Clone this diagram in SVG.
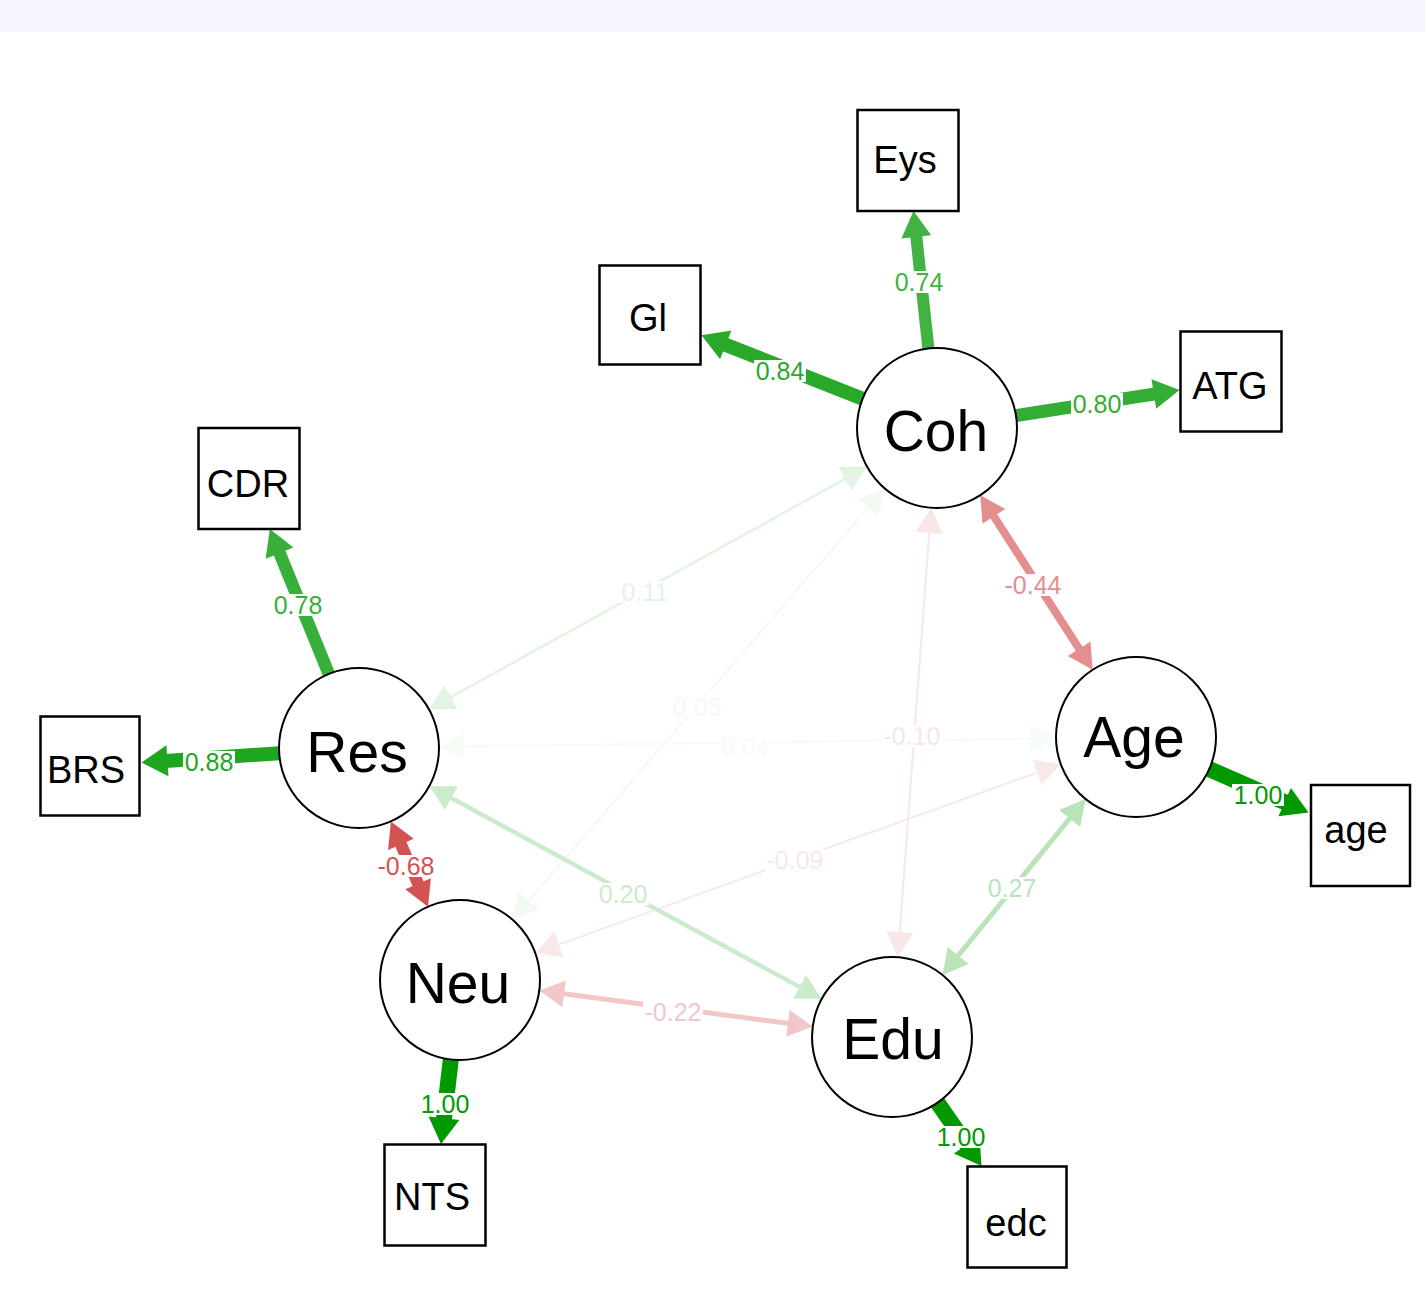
<svg xmlns="http://www.w3.org/2000/svg" width="1425" height="1302" viewBox="0 0 1425 1302">
  <style>
    .lat circle { fill: #ffffff; stroke: #000000; stroke-width: 2; }
    .lat text { font-family: "Liberation Sans", Arial, sans-serif; font-size: 57px; text-anchor: middle; fill: #000000; }
    .man rect { fill: #ffffff; stroke: #000000; stroke-width: 2.5; }
    .man text { font-family: "Liberation Sans", Arial, sans-serif; font-size: 38px; text-anchor: middle; fill: #000000; }
    .edge line { stroke-linecap: butt; }
    .lbl rect { fill: #ffffff; stroke: none; }
    .lbl text { font-family: "Liberation Sans", Arial, sans-serif; font-size: 25px; text-anchor: middle; }
  </style>

  <!-- header band -->
  <rect x="0" y="0" width="1425" height="32" fill="#F5F5FF"/>

  <!-- connectors: each drawn along local x from its start border point -->
  <g id="connectors">
    <!-- loadings (single-headed) -->
    <g class="edge" id="e-coh-eys" transform="translate(928.4,348.5) rotate(-96.18)" fill="#42B342" stroke="#42B342">
      <line x1="0" y1="0" x2="114" y2="0" stroke-width="12"/>
      <polygon points="138.3,0 112.3,-15 112.3,15" stroke="none"/>
    </g>
    <g class="edge" id="e-coh-gl" transform="translate(862.6,398.7) rotate(-158.51)" fill="#29A929" stroke="#29A929">
      <line x1="0" y1="0" x2="149" y2="0" stroke-width="14"/>
      <polygon points="173.1,0 147.1,-15.5 147.1,15.5" stroke="none"/>
    </g>
    <g class="edge" id="e-coh-atg" transform="translate(1016,415.6) rotate(-8.89)" fill="#33AD33" stroke="#33AD33">
      <line x1="0" y1="0" x2="141" y2="0" stroke-width="13"/>
      <polygon points="165.5,0 139.5,-15 139.5,15" stroke="none"/>
    </g>
    <g class="edge" id="e-res-cdr" transform="translate(328.8,673.9) rotate(-112.17)" fill="#38AF38" stroke="#38AF38">
      <line x1="0" y1="0" x2="132" y2="0" stroke-width="12.5"/>
      <polygon points="156.4,0 130.4,-15 130.4,15" stroke="none"/>
    </g>
    <g class="edge" id="e-res-brs" transform="translate(279.2,753.3) rotate(176.17)" fill="#1FA51F" stroke="#1FA51F">
      <line x1="0" y1="0" x2="114" y2="0" stroke-width="14"/>
      <polygon points="138,0 112,-15.5 112,15.5" stroke="none"/>
    </g>
    <g class="edge" id="e-age-age" transform="translate(1209.3,769.1) rotate(23.63)" fill="#009900" stroke="#009900">
      <line x1="0" y1="0" x2="84" y2="0" stroke-width="16"/>
      <polygon points="108.3,0 82.3,-15.5 82.3,15.5" stroke="none"/>
    </g>
    <g class="edge" id="e-neu-nts" transform="translate(450.8,1059.5) rotate(96.63)" fill="#009900" stroke="#009900">
      <line x1="0" y1="0" x2="61" y2="0" stroke-width="16"/>
      <polygon points="85.1,0 59.1,-15.5 59.1,15.5" stroke="none"/>
    </g>
    <g class="edge" id="e-edu-edc" transform="translate(937.6,1102.7) rotate(55.22)" fill="#009900" stroke="#009900">
      <line x1="0" y1="0" x2="53" y2="0" stroke-width="16"/>
      <polygon points="77,0 51,-15.5 51,15.5" stroke="none"/>
    </g>

    <!-- covariances (double-headed) -->
    <g class="edge" id="e-coh-age" transform="translate(980.3,495.3) rotate(57.22)" fill="#E38F8F" stroke="#E38F8F">
      <line x1="23" y1="0" x2="184.5" y2="0" stroke-width="8"/>
      <polygon points="0,0 25,-13.5 25,13.5" stroke="none"/>
      <polygon points="207.5,0 182.5,-13.5 182.5,13.5" stroke="none"/>
    </g>
    <g class="edge" id="e-coh-res" transform="translate(867,466.7) rotate(151.03)" fill="#E3F4E3" stroke="#E3F4E3">
      <line x1="23" y1="0" x2="477.7" y2="0" stroke-width="2.5"/>
      <polygon points="0,0 25,-13.5 25,13.5" stroke="none"/>
      <polygon points="500.7,0 475.7,-13.5 475.7,13.5" stroke="none"/>
    </g>
    <g class="edge" id="e-coh-neu" transform="translate(884.7,488.5) rotate(130.83)" fill="#F2FAF2" stroke="#F2FAF2">
      <line x1="23" y1="0" x2="546.5" y2="0" stroke-width="2"/>
      <polygon points="0,0 25,-13.5 25,13.5" stroke="none"/>
      <polygon points="569.5,0 544.5,-13.5 544.5,13.5" stroke="none"/>
    </g>
    <g class="edge" id="e-coh-edu" transform="translate(931.1,507.8) rotate(94.23)" fill="#F9E6E6" stroke="#F9E6E6">
      <line x1="23" y1="0" x2="427.7" y2="0" stroke-width="2"/>
      <polygon points="0,0 25,-13.5 25,13.5" stroke="none"/>
      <polygon points="450.7,0 425.7,-13.5 425.7,13.5" stroke="none"/>
    </g>
    <g class="edge" id="e-res-age" transform="translate(439,746.9) rotate(-0.81)" fill="#F5FBF5" stroke="#F5FBF5">
      <line x1="23" y1="0" x2="594.1" y2="0" stroke-width="2"/>
      <polygon points="0,0 25,-13.5 25,13.5" stroke="none"/>
      <polygon points="617.1,0 592.1,-13.5 592.1,13.5" stroke="none"/>
    </g>
    <g class="edge" id="e-age-neu" transform="translate(1060.7,764.1) rotate(160.23)" fill="#F9E8E8" stroke="#F9E8E8">
      <line x1="23" y1="0" x2="535.3" y2="0" stroke-width="2"/>
      <polygon points="0,0 25,-13.5 25,13.5" stroke="none"/>
      <polygon points="558.3,0 533.3,-13.5 533.3,13.5" stroke="none"/>
    </g>
    <g class="edge" id="e-age-edu" transform="translate(1085.5,799.1) rotate(129.12)" fill="#BAE3BA" stroke="#BAE3BA">
      <line x1="23" y1="0" x2="203.7" y2="0" stroke-width="5"/>
      <polygon points="0,0 25,-13.5 25,13.5" stroke="none"/>
      <polygon points="226.7,0 201.7,-13.5 201.7,13.5" stroke="none"/>
    </g>
    <g class="edge" id="e-res-edu" transform="translate(429.3,786.1) rotate(28.47)" fill="#CCEBCC" stroke="#CCEBCC">
      <line x1="23" y1="0" x2="423.3" y2="0" stroke-width="4.5"/>
      <polygon points="0,0 25,-13.5 25,13.5" stroke="none"/>
      <polygon points="446.3,0 421.3,-13.5 421.3,13.5" stroke="none"/>
    </g>
    <g class="edge" id="e-res-neu" transform="translate(390.9,821.4) rotate(66.47)" fill="#D35252" stroke="#D35252">
      <line x1="23" y1="0" x2="70" y2="0" stroke-width="12"/>
      <polygon points="0,0 25,-14 25,14" stroke="none"/>
      <polygon points="93,0 68,-14 68,14" stroke="none"/>
    </g>
    <g class="edge" id="e-neu-edu" transform="translate(539.3,990.5) rotate(7.52)" fill="#F1C7C7" stroke="#F1C7C7">
      <line x1="23" y1="0" x2="252.7" y2="0" stroke-width="5"/>
      <polygon points="0,0 25,-13.5 25,13.5" stroke="none"/>
      <polygon points="275.7,0 250.7,-13.5 250.7,13.5" stroke="none"/>
    </g>

    <!-- edge weight labels on white patches -->
    <g class="lbl">
      <rect x="893" y="271" width="52" height="22"/><text x="919" y="291" fill="#42B342">0.74</text>
      <rect x="754" y="360" width="52" height="22"/><text x="780" y="380" fill="#29A929">0.84</text>
      <rect x="1071" y="393" width="52" height="22"/><text x="1097" y="413" fill="#33AD33">0.80</text>
      <rect x="272" y="594" width="52" height="22"/><text x="298" y="614" fill="#38AF38">0.78</text>
      <rect x="183" y="751" width="52" height="22"/><text x="209" y="771" fill="#1FA51F">0.88</text>
      <rect x="1232" y="784" width="52" height="22"/><text x="1258" y="804" fill="#009900">1.00</text>
      <rect x="419" y="1093" width="52" height="22"/><text x="445" y="1113" fill="#009900">1.00</text>
      <rect x="935" y="1126" width="52" height="22"/><text x="961" y="1146" fill="#009900">1.00</text>
      <rect x="1003" y="574" width="60" height="22"/><text x="1033" y="594" fill="#E38F8F">-0.44</text>
      <rect x="619" y="581" width="52" height="22"/><text x="645" y="601" fill="#E3F4E3">0.11</text>
      <rect x="671" y="696" width="52" height="22"/><text x="697" y="716" fill="#F2FAF2">0.05</text>
      <rect x="882" y="725" width="60" height="22"/><text x="912" y="745" fill="#F9E6E6">-0.10</text>
      <rect x="719" y="736" width="52" height="22"/><text x="745" y="756" fill="#F5FBF5">0.04</text>
      <rect x="765" y="849" width="60" height="22"/><text x="795" y="869" fill="#F9E8E8">-0.09</text>
      <rect x="986" y="877" width="52" height="22"/><text x="1012" y="897" fill="#BAE3BA">0.27</text>
      <rect x="597" y="883" width="52" height="22"/><text x="623" y="903" fill="#CCEBCC">0.20</text>
      <rect x="376" y="855" width="60" height="22"/><text x="406" y="875" fill="#D35252">-0.68</text>
      <rect x="643" y="1001" width="60" height="22"/><text x="673" y="1021" fill="#F1C7C7">-0.22</text>
    </g>
  </g>

  <!-- latent variables -->
  <g id="node-coh" class="lat"><circle cx="937" cy="428" r="80"/><text x="936" y="451">Coh</text></g>
  <g id="node-res" class="lat"><circle cx="359" cy="748" r="80"/><text x="357" y="772">Res</text></g>
  <g id="node-age" class="lat"><circle cx="1136" cy="737" r="80"/><text x="1134" y="757">Age</text></g>
  <g id="node-neu" class="lat"><circle cx="460" cy="980" r="80"/><text x="458" y="1003">Neu</text></g>
  <g id="node-edu" class="lat"><circle cx="892" cy="1037" r="80"/><text x="893" y="1059">Edu</text></g>

  <!-- observed indicators -->
  <g id="node-eys" class="man"><rect x="857.5" y="110" width="101" height="101"/><text x="905" y="173">Eys</text></g>
  <g id="node-gl" class="man"><rect x="599.5" y="265.5" width="101" height="99"/><text x="648" y="331">Gl</text></g>
  <g id="node-atg" class="man"><rect x="1180.5" y="331.5" width="101" height="100"/><text x="1230" y="399">ATG</text></g>
  <g id="node-cdr" class="man"><rect x="198.5" y="428" width="101" height="101"/><text x="248" y="497">CDR</text></g>
  <g id="node-brs" class="man"><rect x="40.5" y="716.5" width="99" height="99"/><text x="86" y="783">BRS</text></g>
  <g id="node-agei" class="man"><rect x="1311" y="785" width="99" height="101"/><text x="1356" y="843">age</text></g>
  <g id="node-nts" class="man"><rect x="384.5" y="1144.5" width="101" height="101"/><text x="432" y="1210">NTS</text></g>
  <g id="node-edc" class="man"><rect x="967.5" y="1166.5" width="99" height="101"/><text x="1016" y="1236">edc</text></g>
</svg>
